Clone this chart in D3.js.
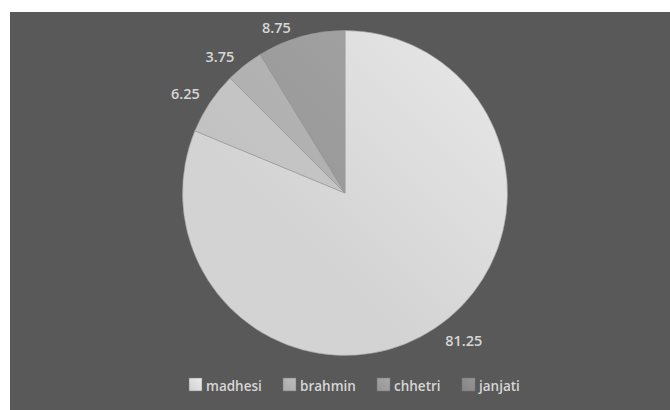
<!DOCTYPE html>
<html>
<head>
<meta charset="utf-8">
<script src="https://cdn.jsdelivr.net/npm/d3@7"></script>
<style>
  html, body { margin: 0; padding: 0; background: #ffffff; }
  svg { display: block; }
  text { font-family: "Open Sans", "DejaVu Sans", sans-serif; }
</style>
</head>
<body>
<svg id="chart" width="670" height="410"></svg>
<script>
// Survey share by group
const categories = ["madhesi", "brahmin", "chhetri", "janjati"];
const values = [81.25, 6.25, 3.75, 8.75];
const valueLabels = ["81.25", "6.25", "3.75", "8.75"];

// Fill shades: [light end, dark end] of each slice gradient
const lightShades = ["#ececec", "#cecece", "#bababa", "#a9a9a9"];
const darkShades  = ["#d3d3d3", "#c2c2c2", "#afafaf", "#979797"];
// Legend key shades
const keyLight = ["#ececec", "#bdbdbd", "#a8a8a8", "#969696"];
const keyDark  = ["#d0d0d0", "#a9a9a9", "#959595", "#848484"];

const W = 670, H = 410;
const svg = d3.select("#chart");

// Dark chart area inset from the white page margin
svg.append("rect")
  .attr("x", 10).attr("y", 12)
  .attr("width", W - 10).attr("height", H - 12)
  .attr("fill", "#595959");

const cx = 345, cy = 193, radius = 162.5;

const defs = svg.append("defs");
categories.forEach((c, i) => {
  const g = defs.append("linearGradient")
    .attr("id", "grad-" + i)
    .attr("gradientUnits", "userSpaceOnUse")
    .attr("x1", cx - radius * 0.75).attr("y1", cy + radius * 0.75)
    .attr("x2", cx + radius * 0.75).attr("y2", cy - radius * 0.75);
  g.append("stop").attr("offset", "0%").attr("stop-color", darkShades[i]);
  g.append("stop").attr("offset", "100%").attr("stop-color", lightShades[i]);

  const k = defs.append("linearGradient")
    .attr("id", "key-" + i)
    .attr("x1", 0).attr("y1", 1).attr("x2", 1).attr("y2", 0);
  k.append("stop").attr("offset", "0%").attr("stop-color", keyDark[i]);
  k.append("stop").attr("offset", "100%").attr("stop-color", keyLight[i]);
});

const data = categories.map((c, i) => ({ name: c, value: values[i], label: valueLabels[i], i }));

const pie = d3.pie().value(d => d.value).sort(null);
const arc = d3.arc().innerRadius(0).outerRadius(radius);
const arcs = pie(data);

const g = svg.append("g").attr("transform", `translate(${cx},${cy})`);

g.selectAll("path.slice")
  .data(arcs)
  .join("path")
  .attr("class", "slice")
  .attr("d", arc)
  .attr("fill", d => `url(#grad-${d.data.i})`)
  .attr("stroke", "#9a9a9a")
  .attr("stroke-width", 0.6)
  .attr("stroke-linejoin", "round");

// Value labels placed just outside each slice's outer edge
const labels = g.selectAll("text.value")
  .data(arcs)
  .join("text")
  .attr("class", "value")
  .attr("fill", "#d6d6d6")
  .attr("font-size", 14.5)
  .attr("font-weight", 600)
  .attr("text-anchor", "middle")
  .text(d => d.data.label);

labels.each(function(d) {
  const mid = (d.startAngle + d.endAngle) / 2;
  const sx = Math.sin(mid), sy = -Math.cos(mid);
  const ex = radius * sx, ey = radius * sy;
  const w = this.getComputedTextLength();
  const x = ex + Math.sign(sx) * (w / 2 + 10);
  const yc = ey + Math.sign(sy) * (sy > 0 ? 12 : 9);
  d3.select(this).attr("x", x).attr("y", yc + 5.5);
});

// Legend
const legendX = [189, 283, 377, 462];
const legend = svg.append("g");
data.forEach((d, i) => {
  const lg = legend.append("g").attr("transform", `translate(${legendX[i]},378)`);
  lg.append("rect")
    .attr("width", 13).attr("height", 13)
    .attr("fill", `url(#key-${i})`)
    .attr("stroke", "#7a7a7a").attr("stroke-width", 0.5);
  lg.append("text")
    .attr("x", 17).attr("y", 12.5)
    .attr("fill", "#d6d6d6")
    .attr("font-size", 13.5)
    .attr("font-weight", 600)
    .text(d.name);
});
</script>
</body>
</html>
